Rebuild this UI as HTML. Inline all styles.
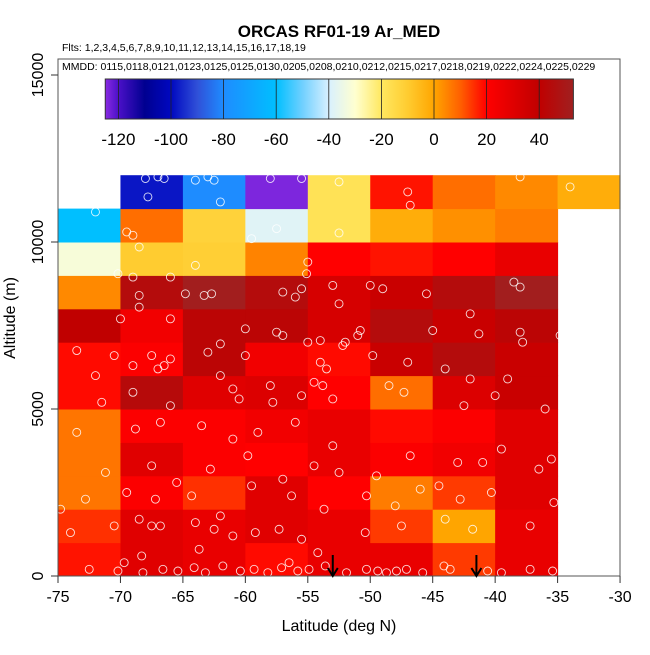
<!DOCTYPE html>
<html><head><meta charset="utf-8"><style>
body{margin:0;background:#fff;font-family:"Liberation Sans",sans-serif}
svg text{font-family:"Liberation Sans",sans-serif}
</style></head><body>
<svg id="chart" width="650" height="650" viewBox="0 0 650 650">
<defs><linearGradient id="cbg" x1="0" x2="1" y1="0" y2="0"></linearGradient></defs>
<g id="cells"></g>
<g id="pts"></g>
<g id="axes"></g>
<text x="339" y="37" text-anchor="middle" font-weight="bold" font-size="17">ORCAS RF01-19 Ar_MED</text>
<text x="62" y="51" font-size="10.5">Flts: 1,2,3,4,5,6,7,8,9,10,11,12,13,14,15,16,17,18,19</text>
<text x="62" y="70" font-size="10.5">MMDD: 0115,0118,0121,0123,0125,0125,0130,0205,0208,0210,0212,0215,0217,0218,0219,0222,0224,0225,0229</text>
<g id="cbar"></g>
<text x="339" y="631" text-anchor="middle" font-size="16">Latitude (deg N)</text>
<text transform="translate(15,318) rotate(-90)" text-anchor="middle" font-size="16">Altitude (m)</text>
</svg>
<script>
const latBins=[-75,-70,-65,-60,-55,-50,-45,-40,-35];
const altBins=[0,1000,2000,3000,4000,5000,6000,7000,8000,9000,10000,11000];
// values[row][col], row = altitude bin from 0 m upward; null = no data
const values=[
[18,30,27,19,27,27,14,27,null],
[15,30,27,30,27,14,0,27,null],
[7,21,15,30,20,6,14,30,null],
[7,30,21,20,27,21,24,30,null],
[7,21,21,24,27,19,21,30,null],
[19,44,30,31,20,8,31,37,null],
[19,21,42,24,19,37,45,37,null],
[40,24,42,42,33,45,37,42,null],
[4,45,52,45,33,37,45,52,null],
[-32,-10,-11,5,20,18,20,27,null],
[-60,8,-12,-38,-18,-2,3,6,null],
[null,-98,-80,-124,-18,18,8,4,-2]
];
const ptLat=[-68,-67,-66.5,-64,-63,-62.5,-67.8,-62,-55.5,-52.5,-47,-46.8,-38,-34,-70.8,-58,-72,-69.5,-69,-57.5,-59.5,-52.5,-68.5,-64,-55,-55.1,-70.2,-69,-66,-68.5,-63.3,-62.7,-57,-56,-55.5,-53,-50,-49,-52.5,-45.5,-38.5,-38,-42,-68.5,-70,-66,-64.8,-73.5,-62,-60,-57.5,-57,-55,-54,-52,-52.2,-45,-41.3,-38,-37.8,-34.8,-50.8,-51,-49.8,-47,-66,-63,-60,-72,-70.5,-67.5,-66.5,-69,-67,-62,-58,-53.5,-54,-54.5,-48.5,-44,-42,-39,-71.5,-69,-66,-61,-60.5,-57.8,-55.5,-53.8,-53,-47.3,-42.5,-40,-36,-73.5,-68.8,-66.8,-63.5,-61,-59,-56,-53,-46.8,-43,-39.5,-35.5,-71.2,-67.5,-65.5,-62.8,-59.8,-57,-54.5,-52.5,-49.5,-44.5,-41,-36.5,-74.8,-72.8,-69.5,-67.2,-64.3,-62,-59.5,-56.3,-53.7,-50.3,-48,-46,-42.8,-40.3,-35.3,-74,-70.5,-68.5,-67.5,-66.8,-64,-62.5,-61,-59.2,-57.3,-55.5,-50.4,-47.5,-44,-41.8,-37.2,-72.5,-70.2,-68.2,-66.6,-65.4,-64.1,-63.2,-61.8,-60.4,-59.3,-58.2,-57.1,-55.8,-54.9,-53.6,-51.9,-50.3,-49.4,-48.7,-47.9,-47.1,-45.8,-44.1,-43.6,-40.6,-39.5,-37.2,-35.4,-69.7,-68.3,-63.7,-56.5,-54.2];
const ptAlt=[11900,11950,11900,11850,11950,11850,11350,11200,11900,11800,11500,11100,11950,11650,11950,11900,10900,10300,10200,10400,10100,10270,9850,9300,9400,9050,9050,8950,8950,8400,8400,8450,8500,8350,8600,8700,8700,8600,8150,8450,8800,8650,7850,8050,7700,7700,8450,6750,6950,7400,7300,7200,7000,7050,7000,6900,7350,7250,7300,7000,7200,7350,7200,6600,6400,6500,6700,6600,6000,6600,6600,6300,6300,6200,6000,5700,6200,6400,5800,5700,6200,5900,5900,5200,5500,5100,5600,5300,5200,5400,5700,5300,5500,5100,5400,5000,4300,4400,4600,4500,4100,4300,4600,3900,3600,3400,3800,3500,3100,3300,2800,3200,3600,2900,3300,3100,3000,2700,3400,3200,2000,2300,2500,2300,2400,1800,2700,2400,2000,2400,2100,2600,2300,2500,2200,1300,1500,1700,1500,1500,1600,1400,1200,1300,1400,1100,1300,1500,1700,1400,1500,200,150,100,200,150,250,100,300,150,200,100,250,150,200,300,100,200,150,100,150,200,100,300,200,150,100,200,150,400,600,800,400,700];
const arrowLat=[-53,-41.5];

const NS='http://www.w3.org/2000/svg';
const xS=v=>58+(v+75)*12.49;
const yS=v=>576-v*0.0334;
const cX=v=>434+2.63*v;
const stops=[[-125,'#8a2be2'],[-120,'#4b10c8'],[-110,'#000090'],[-100,'#0008c0'],[-90,'#3050d8'],[-80,'#1e8cff'],[-60,'#00bfff'],[-50,'#70d0ff'],[-40,'#d8f0ff'],[-30,'#ffffd0'],[-20,'#ffe860'],[-10,'#ffcc30'],[0,'#ffa500'],[10,'#ff6000'],[20,'#ff0000'],[40,'#c00000'],[53,'#a02020']];
function hx(c){return [1,3,5].map(i=>parseInt(c.substr(i,2),16));}
function col(v){
  if(v<=stops[0][0])return stops[0][1];
  for(let i=1;i<stops.length;i++){if(v<=stops[i][0]){const a=hx(stops[i-1][1]),b=hx(stops[i][1]);const t=(v-stops[i-1][0])/(stops[i][0]-stops[i-1][0]);return 'rgb('+a.map((x,k)=>Math.round(x+(b[k]-x)*t)).join(',')+')';}}
  return stops[stops.length-1][1];
}
function mk(tag,attrs,parent){const e=document.createElementNS(NS,tag);for(const k in attrs)e.setAttribute(k,attrs[k]);parent.appendChild(e);return e;}
const cells=document.getElementById('cells');
values.forEach((row,r)=>row.forEach((v,c)=>{
  if(v===null)return;
  const x0=xS(latBins[c]),x1=xS(latBins[c]+5),y0=yS(altBins[r]+1000),y1=yS(altBins[r]);
  const e=mk('rect',{x:x0,y:y0,width:x1-x0+0.5,height:y1-y0+0.5,fill:col(v)},cells);
  
  
}));
const pts=document.getElementById('pts');
ptLat.forEach((la,i)=>{
  const e=mk('circle',{cx:xS(la),cy:yS(ptAlt[i]),r:4,fill:'none',stroke:'#fff','stroke-width':0.9,opacity:0.85},pts);
  
  
});
const ax=document.getElementById('axes');
mk('rect',{x:58,y:59,width:562,height:517,fill:'none',stroke:'#555','stroke-width':1},ax);
[-75,-70,-65,-60,-55,-50,-45,-40,-35,-30].forEach(t=>{
  mk('line',{x1:xS(t),x2:xS(t),y1:576,y2:583,stroke:'#333'},ax);
  const e=mk('text',{x:xS(t),y:602,'text-anchor':'middle','font-size':16},ax);e.textContent=t;
  
  
});
[0,5000,10000,15000].forEach(t=>{
  mk('line',{x1:51,x2:58,y1:yS(t),y2:yS(t),stroke:'#333'},ax);
  const e=mk('text',{transform:'translate(43,'+yS(t)+') rotate(-90)','text-anchor':'middle','font-size':16},ax);e.textContent=t;
  
  
});
arrowLat.forEach(la=>{
  const x=xS(la);
  const g=mk('g',{},ax);
  
  
  mk('line',{x1:x,x2:x,y1:555,y2:575,stroke:'#000','stroke-width':2},g);
  mk('path',{d:`M${x-5} 568 L${x} 576 L${x+5} 568`,fill:'none',stroke:'#000','stroke-width':2},g);
});
const grad=document.getElementById('cbg');
stops.forEach(s=>mk('stop',{offset:((s[0]+125)/178),'stop-color':s[1]},grad));
const cb=document.getElementById('cbar');
mk('rect',{x:cX(-125),y:79,width:cX(53)-cX(-125),height:40,fill:'url(#cbg)',stroke:'#333'},cb);
[-120,-100,-80,-60,-40,-20,0,20,40].forEach(t=>{
  mk('line',{x1:cX(t),x2:cX(t),y1:79,y2:119,stroke:'#222','stroke-width':0.8},cb);
  const e=mk('text',{x:cX(t),y:145,'text-anchor':'middle','font-size':17},cb);e.textContent=t;
  
  
});
</script>
</body></html>
